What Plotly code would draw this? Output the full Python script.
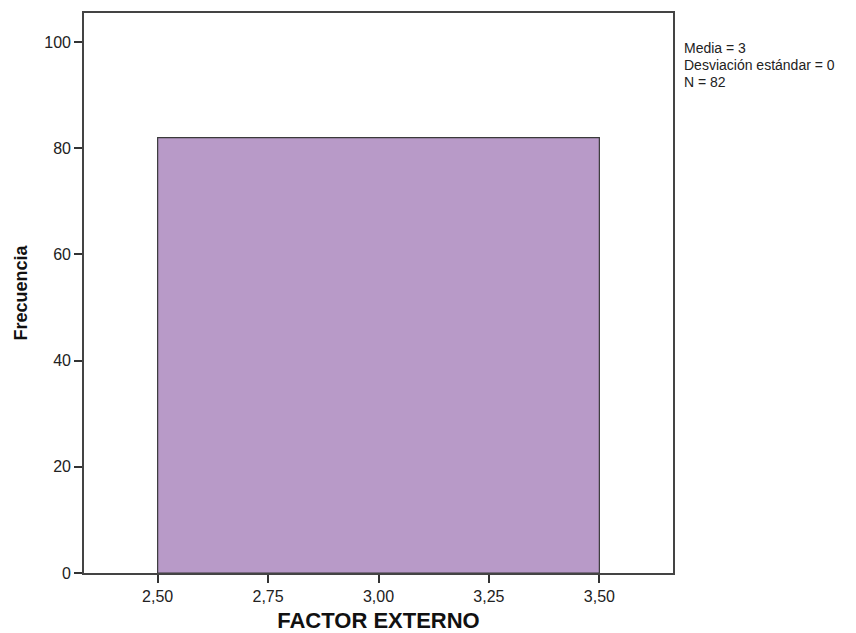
import plotly.graph_objects as go

bin_centers = [3.0]
bin_widths = [1.0]
frequencies = [82]
x_ticks = [2.50, 2.75, 3.00, 3.25, 3.50]
x_tick_labels = ["2,50", "2,75", "3,00", "3,25", "3,50"]
y_ticks = [0, 20, 40, 60, 80, 100]
stats_lines = ["Media = 3", "Desviación estándar = 0", "N = 82"]

fig = go.Figure()
fig.add_trace(go.Bar(
    x=bin_centers, y=frequencies, width=bin_widths,
    marker=dict(color="#B89AC8", line=dict(color="#3a3a3a", width=1.2)),
    hoverinfo="skip",
))

stats_text = "<br>".join('<span style="font-size:14px">%s</span>' % s for s in stats_lines)

fig.update_layout(
    width=848, height=625,
    margin=dict(l=76, r=183, t=5, b=60),
    paper_bgcolor="white", plot_bgcolor="white",
    showlegend=False,
    font=dict(family="Liberation Sans, Arial, sans-serif", size=16, color="#222222"),
    xaxis=dict(
        range=[2.3333, 3.6667], tickvals=x_ticks, ticktext=x_tick_labels,
        ticks="outside", ticklen=8, tickcolor="#333333", tickwidth=1.5,
        showgrid=False, zeroline=False, showline=True, linecolor="#444444", linewidth=1.6,
        mirror=True, tickfont=dict(size=16), automargin=False,
        title=dict(text="<b>FACTOR EXTERNO</b>", font=dict(size=22, color="#111111"), standoff=15),
    ),
    yaxis=dict(
        range=[0, 105.46], tickvals=y_ticks,
        ticks="outside", ticklen=8, tickcolor="#333333", tickwidth=1.5,
        showgrid=False, zeroline=False, showline=True, linecolor="#444444", linewidth=1.6,
        mirror=True, tickfont=dict(size=16), automargin=False,
        title=dict(text="<b>Frecuencia</b>", font=dict(size=18, color="#111111"), standoff=12),
    ),
    annotations=[dict(
        text=stats_text, xref="paper", yref="paper", x=1.0, y=0.955,
        xanchor="left", yanchor="top", xshift=9, showarrow=False, align="left",
        font=dict(size=13, color="#222222"),
    )],
)

fig.write_html("out.html")
